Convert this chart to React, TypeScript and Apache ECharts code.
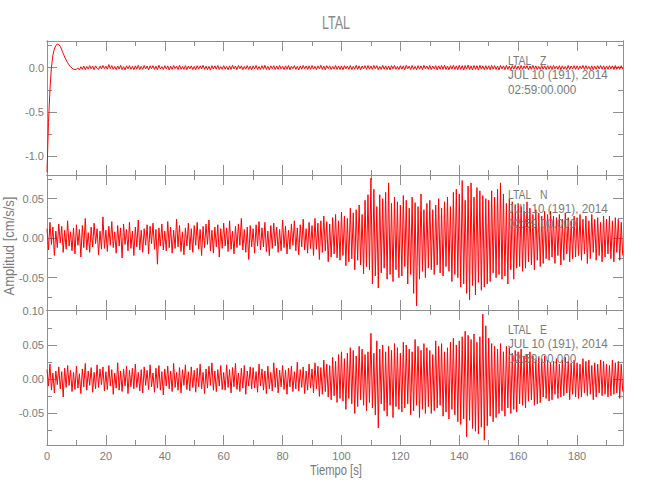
import React, { useEffect, useRef } from "react";
import * as echarts from "echarts";

// ---- data ----
const title = "LTAL";
const stationLabel = "LTAL";
const components = ["Z", "N", "E"];
const dateLine = "JUL 10 (191), 2014";
const timeLine = "02:59:00.000";
const xName = "Tiempo [s]";
const yName = "Amplitud [cm/s/s]";

const dt = 0.5; // sample interval [s]
const tMax = 195.6;

const xMajor = [0, 20, 40, 60, 80, 100, 120, 140, 160, 180];
const xMinor = [10, 30, 50, 70, 90, 110, 130, 150, 170, 190];

const zRange = [-1.21, 0.3];
const nRange = [-0.091, 0.08];
const eRange = [-0.096, 0.101];

const zMajor = [-1.0, -0.5, 0.0];
const zMinor = [-0.75, -0.25, 0.25];
const nMajor = [-0.05, 0.0, 0.05];
const nMinor = [-0.075, -0.025, 0.025, 0.075];
const eMajor = [-0.05, 0.0, 0.05, 0.1];
const eMinor = [-0.075, -0.025, 0.025, 0.075];

// amplitudes in units of 1e-3 cm/s/s, one value every 0.5 s
const zTrace = [
  -1180, -620, -250, 0, 140, 210, 250, 265, 260, 240, 200, 160, 120, 85, 55, 30, 10, -5, -18, -22,
  -18, -4, -26, 10, -20, 18, -24, 12, -16, 22, -14, 18, -24, 20, -10, -22, 18, -14, 24, -12,
  16, -18, 34, -12, 22, -20, 14, -24, 18, -16, 26, -22, 12, -26, 20, -14, 22, -18, 14, -24,
  20, -16, 26, -22, 14, -20, 24, -14, 18, -26, 20, -12, 22, -20, 16, -24, 26, -16, 12, -20,
  22, -14, 20, -26, 16, -20, 24, -12, 16, -22, 28, -18, 14, -20, 22, -24, 18, -14, 20, -22,
  14, -24, 22, -18, 20, -14, 26, -20, 16, -22, 14, -28, 22, -16, 20, -18, 24, -22, 12, -20,
  22, -18, 14, -24, 20, -20, 28, -14, 18, -22, 24, -12, 20, -24, 14, -18, 22, -20, 16, -26,
  20, -14, 24, -22, 12, -20, 22, -18, 26, -20, 14, -24, 20, -12, 22, -22, 18, -20, 24, -14,
  14, -22, 20, -18, 24, -24, 16, -12, 22, -20, 14, -26, 20, -18, 24, -14, 18, -22, 20, -20,
  24, -18, 14, -22, 20, -14, 26, -20, 18, -24, 22, -12, 20, -22, 14, -18, 24, -20, 18, -22,
  20, -24, 22, -14, 18, -20, 24, -22, 14, -18, 26, -20, 20, -24, 18, -14, 22, -20, 24, -18,
  18, -20, 24, -14, 22, -24, 14, -20, 26, -18, 20, -22, 18, -26, 22, -14, 24, -20, 14, -22,
  22, -18, 20, -24, 26, -14, 18, -22, 24, -20, 14, -24, 22, -18, 20, -22, 26, -14, 18, -20,
  24, -22, 18, -14, 22, -26, 20, -18, 24, -20, 28, -22, 18, -24, 22, -18, 26, -20, 20, -24,
  26, -20, 22, -28, 24, -18, 28, -22, 20, -26, 24, -20, 22, -28, 26, -18, 20, -24, 22, -20,
  20, -24, 26, -18, 22, -22, 18, -26, 24, -14, 20, -22, 26, -20, 18, -24, 22, -18, 24, -20,
  18, -22, 24, -20, 20, -14, 22, -24, 18, -20, 26, -18, 20, -22, 14, -20, 24, -18, 20, -22,
  22, -18, 20, -22, 24, -14, 18, -20, 22, -24, 20, -18, 14, -22, 24, -20, 18, -14, 22, -20,
  20, -22, 18, -14, 24, -20, 22, -18, 14, -22, 20, -24, 18, -20, 22, -14, 24, -18, 20, -22,
  18, -20, 22, -14, 20, -22, 24, -18, 14, -20, 22, -18,
];

const nTrace = [
  12, -15, 20, -8, 14, -22, 9, -12, 18, -6, 15, -18, 10, -14, 22, -10, 8, -16, 13, -20,
  17, -9, 11, -24, 16, -12, 25, -15, 7, -18, 14, -11, 19, -7, 12, -21, 9, -14, 27, -13,
  10, -17, 15, -9, 21, -12, 8, -19, 16, -10, 13, -25, 18, -8, 11, -16, 20, -13, 9, -22,
  14, -11, 23, -15, 10, -18, 12, -9, 17, -20, 15, -7, 19, -14, 11, -33, 13, -10, 18, -15,
  9, -16, 21, -12, 14, -19, 10, -13, 24, -11, 16, -17, 8, -21, 13, -10, 19, -15, 12, -18,
  16, -9, 20, -14, 11, -22, 15, -12, 18, -8, 23, -16, 10, -19, 14, -11, 17, -24, 12, -13,
  19, -10, 13, -17, 22, -14, 9, -20, 15, -12, 18, -9, 25, -15, 11, -18, 14, -27, 16, -11,
  12, -19, 17, -10, 21, -15, 13, -11, 20, -17, 9, -22, 16, -13, 19, -10, 14, -18, 11, -16,
  23, -12, 15, -20, 10, -14, 18, -9, 22, -16, 13, -21, 17, -11, 24, -15, 12, -19, 20, -13,
  16, -22, 25, -14, 19, -27, 22, -18, 28, -16, 21, -30, 18, -24, 26, -20, 30, -25, 22, -28,
  33, -22, 28, -35, 25, -30, 38, -26, 32, -40, 36, -28, 42, -34, 30, -45, 48, -36, 55, -40,
  76, -58, 62, -48, 40, -63, 55, -44, 50, -38, 58, -52, 70, -46, 44, -55, 52, -40, 46, -50,
  42, -48, 54, -36, 48, -58, 38, -46, 52, -70, 45, -86, 40, -52, 56, -42, 36, -50, 44, -38,
  48, -40, 36, -46, 42, -34, 50, -44, 38, -48, 46, -36, 52, -42, 40, -55, 58, -46, 62, -50,
  56, -62, 73, -58, 48, -70, 66, -78, 70, -60, 52, -72, 64, -56, 60, -66, 54, -62, 50, -58,
  48, -55, 60, -44, 52, -50, 62, -46, 70, -52, 56, -48, 44, -58, 50, -40, 46, -52, 42, -38,
  44, -36, 40, -42, 34, -38, 46, -30, 38, -34, 30, -40, 36, -28, 32, -36, 28, -32, 34, -26,
  30, -28, 34, -24, 28, -32, 26, -22, 30, -34, 24, -28, 32, -20, 26, -30, 22, -26, 28, -24,
  26, -22, 30, -28, 24, -20, 28, -32, 22, -26, 30, -18, 24, -28, 26, -22, 20, -30, 28, -24,
  24, -20, 28, -26, 22, -30, 26, -18, 24, -28, 20, -22,
];

const eTrace = [
  14, -10, 22, -16, 9, -20, 12, -8, 18, -14, 11, -26, 16, -12, 20, -9, 13, -18, 10, -15,
  19, -13, 8, -21, 15, -11, 23, -16, 12, -9, 17, -19, 10, -14, 21, -12, 15, -8, 18, -17,
  11, -15, 20, -10, 14, -22, 9, -13, 24, -16, 12, -18, 15, -10, 19, -21, 13, -11, 16, -14,
  22, -12, 10, -17, 14, -20, 18, -9, 13, -15, 21, -11, 9, -19, 16, -13, 20, -16, 11, -23,
  15, -10, 19, -14, 12, -18, 23, -12, 10, -16, 17, -20, 14, -9, 21, -15, 11, -17, 18, -12,
  13, -19, 16, -11, 22, -14, 10, -21, 15, -13, 19, -9, 24, -16, 12, -18, 14, -10, 20, -15,
  10, -16, 21, -12, 14, -20, 17, -11, 23, -15, 9, -18, 16, -13, 20, -22, 12, -10, 18, -14,
  17, -13, 11, -19, 22, -10, 15, -16, 12, -21, 19, -14, 10, -17, 24, -12, 16, -20, 13, -11,
  20, -15, 13, -22, 16, -11, 19, -18, 11, -14, 25, -17, 14, -12, 18, -21, 12, -16, 22, -13,
  15, -20, 24, -14, 19, -25, 17, -22, 28, -18, 22, -26, 20, -30, 32, -24, 26, -34, 36, -28,
  40, -32, 30, -44, 38, -28, 46, -36, 42, -50, 34, -40, 48, -30, 44, -38, 36, -46, 40, -34,
  67, -42, 38, -52, 56, -71, 44, -36, 50, -46, 40, -54, 48, -38, 42, -56, 52, -40, 46, -44,
  38, -48, 54, -42, 50, -36, 44, -52, 40, -46, 58, -38, 48, -56, 42, -44, 52, -50, 46, -40,
  42, -50, 36, -46, 56, -42, 48, -38, 52, -54, 40, -48, 46, -58, 54, -44, 60, -52, 50, -62,
  56, -66, 62, -58, 70, -84, 64, -60, 58, -72, 66, -76, 54, -80, 62, -70, 95, -89, 78, -68,
  60, -54, 52, -62, 48, -56, 44, -50, 52, -46, 40, -54, 48, -42, 46, -50, 38, -44, 42, -48,
  40, -36, 44, -38, 34, -42, 36, -32, 40, -30, 34, -38, 28, -36, 32, -34, 30, -26, 34, -28,
  28, -32, 24, -30, 26, -22, 30, -28, 22, -26, 28, -24, 32, -20, 26, -30, 24, -22, 28, -26,
  24, -28, 22, -26, 30, -20, 26, -24, 28, -22, 20, -30, 24, -26, 22, -20, 28, -24, 26, -22,
  22, -26, 20, -24, 28, -22, 24, -20, 26, -28, 22, -18,
];

// ---- layout / style ----
const FONT = "'Liberation Sans', Arial, sans-serif";
const AXC = "#8f8f8f";
const TXC = "#7a7a7a";
const TRACE = "#ff0000";
const GRID_LEFT = 47;
const GRID_RIGHT = 27;
const panelTops = [41, 175, 310];
const panelHeights = [134, 135, 135];

const panels = [
  { trace: zTrace, range: zRange, major: zMajor, minor: zMinor, digits: 1 },
  { trace: nTrace, range: nRange, major: nMajor, minor: nMinor, digits: 2 },
  { trace: eTrace, range: eRange, major: eMajor, minor: eMinor, digits: 2 },
];

function buildOption() {
  const grid: any[] = [];
  const xAxis: any[] = [];
  const yAxis: any[] = [];
  const series: any[] = [];
  const graphic: any[] = [];

  panels.forEach((p, gi) => {
    grid.push({ left: GRID_LEFT, right: GRID_RIGHT, top: panelTops[gi], height: panelHeights[gi], show: false });
    const line = { show: true, onZero: false, lineStyle: { color: AXC, width: 1 } };
    const xBase = { type: "value", gridIndex: gi, min: 0, max: tMax, axisLine: line, splitLine: { show: false } };
    const isLast = gi === panels.length - 1;
    const xLabel = {
      show: isLast,
      customValues: xMajor,
      formatter: (v: number) => String(v),
      color: TXC,
      fontSize: 11,
      fontFamily: FONT,
      margin: 5,
    };
    ["bottom", "top"].forEach((pos) => {
      xAxis.push({
        ...xBase,
        position: pos,
        axisTick: { show: true, inside: true, length: 10, customValues: xMajor, lineStyle: { color: AXC } },
        axisLabel: pos === "bottom" ? xLabel : { show: false },
      });
      xAxis.push({
        ...xBase,
        position: pos,
        axisTick: { show: true, inside: true, length: 5, customValues: xMinor, lineStyle: { color: AXC } },
        axisLabel: { show: false },
      });
    });
    const yBase = { type: "value", gridIndex: gi, min: p.range[0], max: p.range[1], axisLine: line, splitLine: { show: false } };
    ["left", "right"].forEach((pos) => {
      yAxis.push({
        ...yBase,
        position: pos,
        axisTick: { show: true, inside: true, length: 10, customValues: p.major, lineStyle: { color: AXC } },
        axisLabel:
          pos === "left"
            ? {
                show: true,
                customValues: p.major,
                formatter: (v: number) => v.toFixed(p.digits),
                color: TXC,
                fontSize: 11,
                fontFamily: FONT,
                margin: 3,
              }
            : { show: false },
      });
      yAxis.push({
        ...yBase,
        position: pos,
        axisTick: { show: true, inside: true, length: 5, customValues: p.minor, lineStyle: { color: AXC } },
        axisLabel: { show: false },
      });
    });
    series.push({
      type: "line",
      xAxisIndex: gi * 4,
      yAxisIndex: gi * 4,
      data: p.trace.map((v, i) => [i * dt, v / 1000]),
      showSymbol: false,
      symbol: "none",
      clip: true,
      silent: true,
      lineStyle: { color: TRACE, width: 1 },
    });

    const top = panelTops[gi];
    const ts = { fill: TXC, fontSize: 13, fontFamily: FONT, textVerticalAlign: "middle", textAlign: "left" };
    graphic.push({ type: "text", x: 508, y: top + 19, scaleX: 0.8, z: 10, style: { ...ts, text: stationLabel } });
    graphic.push({ type: "text", x: 540, y: top + 19, scaleX: 0.8, z: 10, style: { ...ts, text: components[gi] } });
    graphic.push({ type: "text", x: 508, y: top + 34, scaleX: 0.9, z: 10, style: { ...ts, text: dateLine } });
    graphic.push({ type: "text", x: 508, y: top + 49, scaleX: 0.9, z: 10, style: { ...ts, text: timeLine } });
  });

  graphic.push({
    type: "text",
    x: 336,
    y: 22,
    scaleX: 0.66,
    style: { text: title, fill: "#8a8a8a", fontSize: 19, fontFamily: FONT, textAlign: "center", textVerticalAlign: "middle" },
  });
  graphic.push({
    type: "text",
    x: 336,
    y: 471,
    scaleX: 0.8,
    style: { text: xName, fill: TXC, fontSize: 14, fontFamily: FONT, textAlign: "center", textVerticalAlign: "middle" },
  });
  graphic.push({
    type: "text",
    x: 9,
    y: 246,
    rotation: Math.PI / 2,
    scaleX: 0.93,
    style: { text: yName, fill: TXC, fontSize: 14, fontFamily: FONT, textAlign: "center", textVerticalAlign: "middle" },
  });

  return {
    animation: false,
    backgroundColor: "#ffffff",
    grid,
    xAxis,
    yAxis,
    series,
    graphic,
  };
}

export default function App() {
  const ref = useRef<HTMLDivElement>(null);
  useEffect(() => {
    if (!ref.current) return;
    const chart = echarts.init(ref.current, undefined, { renderer: "svg" });
    chart.setOption(buildOption() as any);
    return () => chart.dispose();
  }, []);
  return <div ref={ref} style={{ width: 650, height: 500, position: "absolute", left: 0, top: 0 }} />;
}
